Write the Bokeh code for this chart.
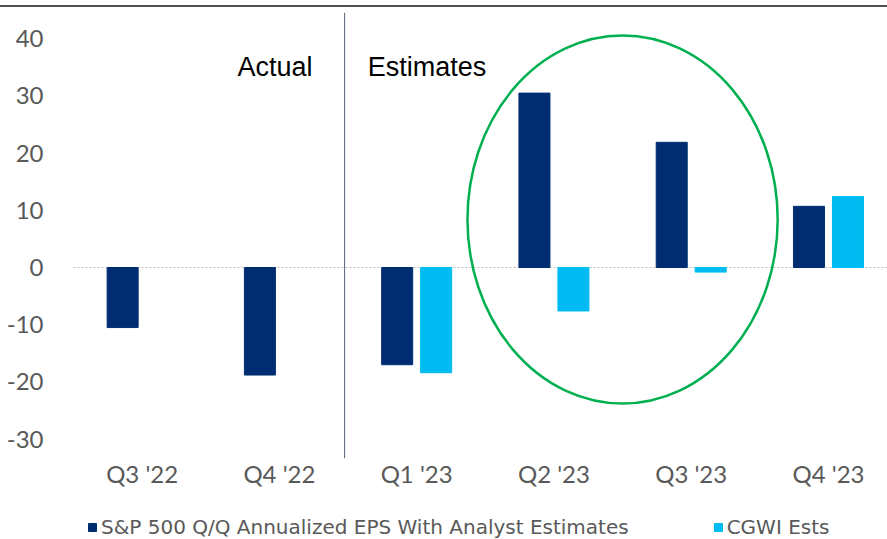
import math
from bokeh.plotting import figure
from bokeh.layouts import column
from bokeh.models import (ColumnDataSource, Range1d, FixedTicker, Span, Label,
                          Legend, LegendItem)
from bokeh.embed import file_html
from bokeh.resources import INLINE

# ---- data ----
categories = ["Q3 '22", "Q4 '22", "Q1 '23", "Q2 '23", "Q3 '23", "Q4 '23"]
sp500_eps = [-10.5, -18.8, -17.0, 30.5, 21.9, 10.7]
cgwi_ests = [float("nan"), float("nan"), -18.4, -7.6, -0.8, 12.4]
y_ticks = [-30, -20, -10, 0, 10, 20, 30, 40]
series_names = ["S&P 500 Q/Q Annualized EPS With Analyst Estimates", "CGWI Ests"]

DARK = "#002D72"
LIGHT = "#00BCF2"
GRAY = "#595959"

idx = list(range(len(categories)))
centers = [i + 0.5 for i in idx]
off = 0.142
bw = 0.226

src_sp = ColumnDataSource(dict(x=[c - off for c in centers], top=sp500_eps,
                               bottom=[0] * len(sp500_eps)))
cg_x = [c + off for c, v in zip(centers, cgwi_ests) if not math.isnan(v)]
cg_v = [v for v in cgwi_ests if not math.isnan(v)]
src_cg = ColumnDataSource(dict(x=cg_x, top=cg_v, bottom=[0] * len(cg_v)))

y_start, y_end = -33.4, 44.6

p = figure(width=887, height=508, output_backend="svg", toolbar_location=None,
           x_range=Range1d(0, 5.93), y_range=Range1d(y_start, y_end),
           min_border_left=73, min_border_right=0, min_border_top=12,
           min_border_bottom=50)
p.border_fill_alpha = 0
p.background_fill_color = "white"
p.outline_line_color = None
p.styles = {"background": "linear-gradient(to bottom, white 0px, white 5px, #505050 5px, #505050 7px, white 7px, white 100%)"}

r1 = p.vbar(x="x", top="top", bottom="bottom", width=bw, source=src_sp,
            fill_color=DARK, line_color=DARK)
r2 = p.vbar(x="x", top="top", bottom="bottom", width=bw, source=src_cg,
            fill_color=LIGHT, line_color=LIGHT)

# axes
p.xaxis.ticker = FixedTicker(ticks=centers)
p.xaxis.major_label_overrides = {c: lab for c, lab in zip(centers, categories)}
p.yaxis.ticker = FixedTicker(ticks=y_ticks)
p.yaxis.major_label_overrides = {t: str(t) for t in y_ticks}
for ax in (p.xaxis, p.yaxis):
    ax.axis_line_color = None
    ax.major_tick_line_color = None
    ax.minor_tick_line_color = None
    ax.major_label_text_color = GRAY
    ax.major_label_text_font = "Lato"
    ax.major_label_text_font_size = "24px"
p.yaxis.major_label_standoff = 24
p.xaxis.major_label_standoff = -6

p.xgrid.grid_line_color = None
p.ygrid.ticker = FixedTicker(ticks=[0, y_end])
p.ygrid.grid_line_color = "#bfbfbf"
p.ygrid.grid_line_dash = "2 2"

# divider between actual and estimates
p.add_layout(Span(location=1.975, dimension="height", line_color="#5a6478",
                  line_width=1))

# annotations
p.add_layout(Label(x=1.195, y=35.0, text="Actual", text_font="Liberation Sans",
                   text_font_size="27px", text_color="black",
                   text_baseline="alphabetic"))
p.add_layout(Label(x=2.143, y=35.0, text="Estimates", text_font="Liberation Sans",
                   text_font_size="27px", text_color="black",
                   text_baseline="alphabetic"))

# highlight ellipse
p.ellipse(x=[4.0], y=[8.4], width=[2.26], height=[64.4], fill_color=None,
          line_color="#00B050", line_width=2.5)

# ---- legend strip (separate small figure so the legend is not clipped) ----
lg = figure(width=887, height=31, output_backend="svg", toolbar_location=None,
            x_range=Range1d(0, 1), y_range=Range1d(0, 1),
            x_axis_location=None, y_axis_location=None,
            min_border_left=0, min_border_right=0, min_border_top=0,
            min_border_bottom=0)
lg.outline_line_color = None
lg.xgrid.visible = False
lg.ygrid.visible = False
l1 = lg.vbar(x="x", top="top", bottom="bottom", width=bw, source=src_sp,
             fill_color=DARK, line_color=DARK, visible=False)
l2 = lg.vbar(x="x", top="top", bottom="bottom", width=bw, source=src_cg,
             fill_color=LIGHT, line_color=LIGHT, visible=False)
legend = Legend(items=[LegendItem(label=series_names[0], renderers=[l1]),
                       LegendItem(label=series_names[1], renderers=[l2])],
                orientation="horizontal", location=(14, 0),
                glyph_width=10, glyph_height=10, label_standoff=4,
                spacing=84, padding=0, margin=0,
                label_text_font="DejaVu Sans", label_text_font_size="20px",
                label_text_color=GRAY, border_line_color=None,
                background_fill_alpha=0, click_policy="none")
lg.add_layout(legend, "center")

page = column(p, lg, spacing=0)
open("out.html", "w").write(file_html(page, INLINE))
